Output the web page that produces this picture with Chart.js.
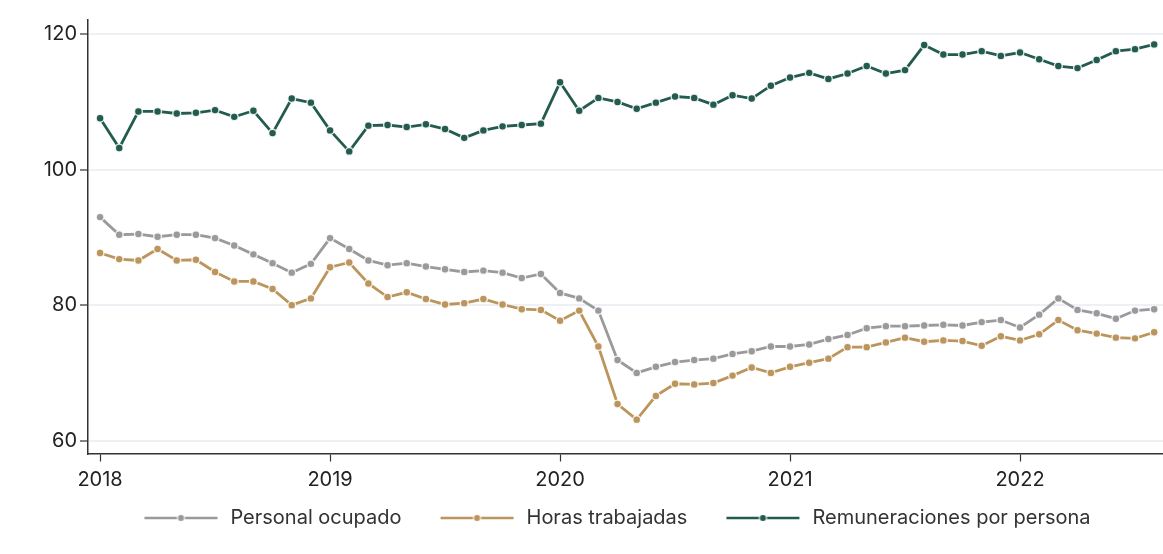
<!DOCTYPE html>
<html lang="es">
<head>
<meta charset="utf-8">
<title>Personal ocupado, horas trabajadas y remuneraciones</title>
<script src="https://cdn.jsdelivr.net/npm/chart.js@4.4.1/dist/chart.umd.min.js"></script>
<style>
  html, body { margin: 0; padding: 0; background: #fff; overflow: hidden; }
  #wrap { position: relative; width: 1163px; height: 554px; }
  #wrap canvas { display: block; }
</style>
</head>
<body>
<div id="wrap"><canvas id="grafica"></canvas></div>
<script>
// Serie mensual, enero 2018 a agosto 2022
const years = ['2018', '2019', '2020', '2021', '2022'];
const yTicks = [60, 80, 100, 120];

const personalOcupado = [
  93.0, 90.4, 90.5, 90.1, 90.4, 90.4, 89.9, 88.8, 87.5, 86.2, 84.8, 86.1,
  89.9, 88.3, 86.6, 85.9, 86.2, 85.7, 85.3, 84.9, 85.1, 84.8, 84.0, 84.6,
  81.8, 81.0, 79.2, 71.9, 70.0, 70.9, 71.6, 71.9, 72.1, 72.8, 73.2, 73.9,
  73.9, 74.2, 75.0, 75.6, 76.6, 76.9, 76.9, 77.0, 77.1, 77.0, 77.5, 77.8,
  76.7, 78.6, 81.0, 79.3, 78.8, 78.0, 79.2, 79.4
];
const horasTrabajadas = [
  87.7, 86.8, 86.6, 88.3, 86.6, 86.7, 84.9, 83.5, 83.5, 82.4, 80.0, 81.0,
  85.6, 86.3, 83.2, 81.2, 81.9, 80.9, 80.1, 80.3, 80.9, 80.1, 79.4, 79.3,
  77.7, 79.2, 73.9, 65.4, 63.1, 66.6, 68.4, 68.3, 68.5, 69.6, 70.8, 70.0,
  70.9, 71.5, 72.1, 73.8, 73.8, 74.5, 75.2, 74.6, 74.8, 74.7, 74.0, 75.4,
  74.8, 75.7, 77.8, 76.3, 75.8, 75.2, 75.1, 76.0
];
const remuneraciones = [
  107.6, 103.2, 108.6, 108.6, 108.3, 108.4, 108.8, 107.8, 108.7, 105.4, 110.5, 109.9,
  105.8, 102.7, 106.5, 106.6, 106.3, 106.7, 106.0, 104.7, 105.8, 106.4, 106.6, 106.8,
  112.9, 108.7, 110.6, 110.0, 109.0, 109.9, 110.8, 110.6, 109.6, 111.0, 110.5, 112.4,
  113.6, 114.3, 113.4, 114.2, 115.3, 114.2, 114.7, 118.4, 117.0, 117.0, 117.5, 116.8,
  117.3, 116.3, 115.3, 115.0, 116.2, 117.5, 117.8, 118.5
];

const GRIS = '#9a9a9c';
const DORADO = '#bc955c';
const VERDE = '#235b4e';
const FUENTE = 'Inter, "Noto Sans", sans-serif';

const toPoints = (vals) => vals.map((v, i) => ({ x: i, y: v }));

// icono de leyenda: linea - punto - linea
const ICON_LEAD = 29;
const ICON_W = ICON_LEAD + 73 + 3;
function legendIcon(color) {
  const c = document.createElement('canvas');
  c.width = ICON_W;
  c.height = 12;
  const g = c.getContext('2d');
  g.strokeStyle = color;
  g.lineWidth = 2.6;
  g.beginPath();
  g.moveTo(ICON_LEAD, 6);
  g.lineTo(ICON_LEAD + 73, 6);
  g.stroke();
  g.beginPath();
  g.arc(ICON_LEAD + 36.5, 6, 3.6, 0, Math.PI * 2);
  g.fillStyle = color;
  g.fill();
  g.lineWidth = 1.2;
  g.strokeStyle = 'rgba(255,255,255,0.9)';
  g.stroke();
  return c;
}

function serie(label, vals, color) {
  return {
    label: label,
    data: toPoints(vals),
    borderColor: color,
    backgroundColor: color,
    borderWidth: 2.8,
    pointRadius: 3.9,
    pointBorderWidth: 1.4,
    pointBorderColor: 'rgba(255,255,255,0.85)',
    pointBackgroundColor: color,
    tension: 0,
    fill: false,
    icon: legendIcon(color)
  };
}

// centra la leyenda bajo el area de la grafica
const legendShift = {
  id: 'legendShift',
  afterLayout(chart) {
    const lg = chart.legend;
    const ca = chart.chartArea;
    const target = (ca.left + ca.right) / 2 - 8;
    const dx = target - (lg.left + lg.right) / 2 - ICON_LEAD / 2;
    lg.left += dx;
    lg.right += dx;
  }
};

const ctx = document.getElementById('grafica').getContext('2d');
new Chart(ctx, {
  type: 'line',
  data: {
    datasets: [
      serie('Personal ocupado', personalOcupado, GRIS),
      serie('Horas trabajadas', horasTrabajadas, DORADO),
      serie('Remuneraciones por persona', remuneraciones, VERDE)
    ]
  },
  options: {
    responsive: true,
    maintainAspectRatio: false,
    animation: false,
    layout: { autoPadding: false, padding: { top: 20, right: 0, bottom: 16, left: 0 } },
    plugins: {
      tooltip: { enabled: false },
      legend: {
        position: 'bottom',
        labels: {
          usePointStyle: true,
          pointStyleWidth: ICON_W,
          padding: 10,
          color: '#333333',
          font: { family: FUENTE, size: 20 },
          generateLabels(chart) {
            const items = Chart.defaults.plugins.legend.labels.generateLabels(chart);
            items.forEach((it) => {
              it.pointStyle = chart.data.datasets[it.datasetIndex].icon;
            });
            return items;
          }
        }
      }
    },
    scales: {
      x: {
        type: 'linear',
        min: -0.63,
        max: 55.46,
        afterBuildTicks(axis) {
          axis.ticks = years.map((y, i) => ({ value: i * 12 }));
        },
        afterFit(axis) { axis.height = 44.5; },
        ticks: {
          autoSkip: false,
          maxRotation: 0,
          padding: 6.5,
          color: '#222222',
          font: { family: FUENTE, size: 20 },
          callback: (v) => years[Math.round(v / 12)]
        },
        grid: {
          drawOnChartArea: false,
          drawTicks: true,
          tickLength: 8,
          tickColor: '#333333',
          tickWidth: 1.2
        },
        border: { display: true, color: '#333333', width: 1.5 }
      },
      y: {
        min: 58.1,
        max: 122.1,
        afterBuildTicks(axis) {
          axis.ticks = yTicks.map((v) => ({ value: v }));
        },
        afterFit(axis) { axis.width = 88; },
        ticks: {
          padding: 3,
          color: '#222222',
          font: { family: FUENTE, size: 20 }
        },
        grid: {
          color: '#edf1f5',
          lineWidth: 2,
          tickLength: 8,
          tickColor: '#333333',
          tickWidth: 1.2
        },
        border: { display: true, color: '#333333', width: 1.5 }
      }
    }
  },
  plugins: [legendShift]
});
</script>
</body>
</html>
